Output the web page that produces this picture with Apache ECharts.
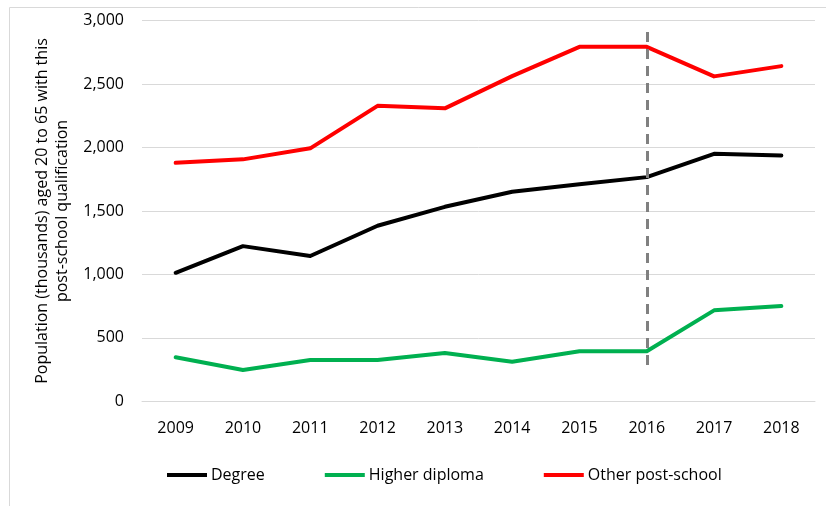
<!DOCTYPE html>
<html>
<head>
<meta charset="utf-8">
<script src="https://cdn.jsdelivr.net/npm/echarts@6/dist/echarts.min.js"></script>
<style>
  html, body { margin: 0; padding: 0; background: #fff; }
  #chart { width: 826px; height: 506px; }
</style>
</head>
<body>
<div id="chart"></div>
<script>
// Population (thousands) aged 20 to 65 by post-school qualification
const years = ['2009', '2010', '2011', '2012', '2013', '2014', '2015', '2016', '2017', '2018'];
const degree = [1013, 1223, 1145, 1384, 1533, 1652, 1710, 1767, 1951, 1938];
const higherDiploma = [347, 247, 325, 325, 381, 312, 394, 394, 717, 751];
const otherPostSchool = [1880, 1907, 1994, 2329, 2309, 2563, 2794, 2794, 2561, 2642];
// Dashed marker at the 2016 break, spanning these values
const breakYear = '2016';
const breakSpan = [2910, 270];

const FONT = 'Open Sans';
const FS = 16;

const chart = echarts.init(document.getElementById('chart'));

function lineSeries(name, data, color) {
  return {
    name: name,
    type: 'line',
    data: data,
    symbol: 'none',
    lineStyle: { color: color, width: 4, cap: 'round', join: 'round' },
    itemStyle: { color: color },
    z: 3
  };
}

const series = [
  lineSeries('Degree', degree, '#000000'),
  lineSeries('Higher diploma', higherDiploma, '#00b050'),
  lineSeries('Other post-school', otherPostSchool, '#ff0000')
];
series[0].markLine = {
  silent: true,
  symbol: 'none',
  label: { show: false },
  lineStyle: { color: '#808080', width: 3, type: [10, 7] },
  data: [[{ coord: [breakYear, breakSpan[0]] }, { coord: [breakYear, breakSpan[1]] }]]
};

chart.setOption({
  animation: false,
  textStyle: { fontFamily: FONT },
  graphic: [{
    type: 'rect',
    shape: { x: 9.5, y: 7.5, width: 830, height: 520 },
    style: { fill: null, stroke: '#d9d9d9', lineWidth: 1 },
    silent: true
  }],
  grid: { left: 142, right: 11, top: 20.7, bottom: 104.7 },
  legend: {
    left: 162,
    top: 462,
    icon: 'rect',
    itemWidth: 40,
    itemHeight: 4,
    itemGap: 60,
    textStyle: { fontFamily: FONT, fontSize: FS, color: '#000', padding: [0, 0, 0, -1] },
    data: ['Degree', 'Higher diploma', 'Other post-school']
  },
  xAxis: {
    type: 'category',
    data: years,
    boundaryGap: true,
    axisTick: { show: false },
    axisLine: { lineStyle: { color: '#d9d9d9', width: 1 } },
    axisLabel: { color: '#000', fontSize: FS, margin: 19, fontFamily: FONT }
  },
  yAxis: {
    type: 'value',
    min: 0,
    max: 3000,
    interval: 500,
    name: 'Population (thousands) aged 20 to 65 with this\npost-school qualification',
    nameLocation: 'middle',
    nameGap: 68,
    nameRotate: 90,
    nameTextStyle: { color: '#000', fontSize: FS, lineHeight: 20, fontFamily: FONT },
    axisLine: { show: false },
    axisTick: { show: false },
    splitLine: { lineStyle: { color: '#d9d9d9', width: 1 } },
    axisLabel: {
      color: '#000', fontSize: FS, margin: 18, fontFamily: FONT,
      formatter: v => v.toLocaleString('en-US')
    }
  },
  series: series
});
</script>
</body>
</html>
